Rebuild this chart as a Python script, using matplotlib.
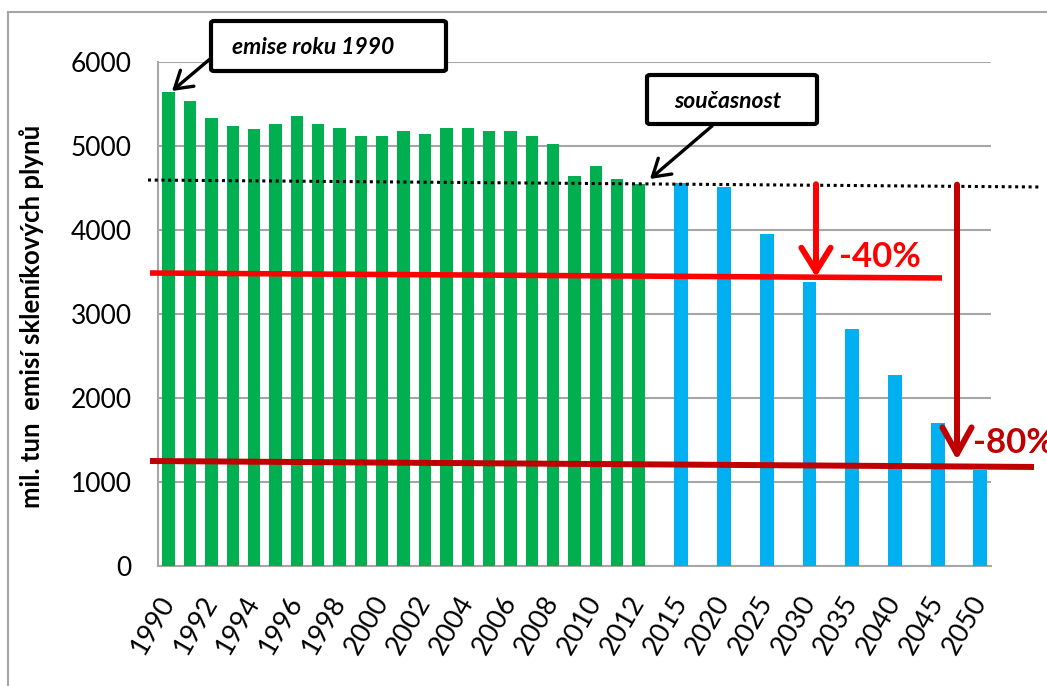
import matplotlib
matplotlib.use("Agg")
import matplotlib.pyplot as plt
from matplotlib.patches import FancyBboxPatch
from matplotlib.lines import Line2D

# ---- data ----
green_years = [1990, 1991, 1992, 1993, 1994, 1995, 1996, 1997, 1998, 1999, 2000, 2001,
               2002, 2003, 2004, 2005, 2006, 2007, 2008, 2009, 2010, 2011, 2012]
green_values = [5640, 5536, 5337, 5238, 5198, 5258, 5357, 5258, 5218, 5119, 5119, 5179,
                5139, 5218, 5218, 5179, 5179, 5119, 5020, 4643, 4762, 4607, 4552]
blue_years = [2015, 2020, 2025, 2030, 2035, 2040, 2045, 2050]
blue_values = [4556, 4516, 3952, 3385, 2827, 2274, 1702, 1140]
y_ticks = [0, 1000, 2000, 3000, 4000, 5000, 6000]
y_label = "mil. tun  emisí skleníkových plynů"

# annotation levels (hand-drawn guides in the original)
current_level = (4595, 4512)
target40_level = (3488, 3429)
target80_level = (1250, 1179)

FONT = ["Lato", "DejaVu Sans"]
plt.rcParams["font.family"] = FONT

W, H = 1047, 686
fig = plt.figure(figsize=(W / 100, H / 100), dpi=100)
fig.patch.set_facecolor("white")


def fp(x, y):
    return (x / W, 1 - y / H)


ax = fig.add_axes([158 / W, 1 - 566 / H, (991 - 158) / W, (566 - 62) / H])

green_pos = list(range(len(green_years)))
blue_pos = [len(green_years) + 1 + 2 * i for i in range(len(blue_years))]
n_slots = blue_pos[-1] + 1

ax.bar(green_pos, green_values, width=0.58, color="#00B050", zorder=3)
ax.bar(blue_pos, blue_values, width=0.65, color="#00B0F0", zorder=3)

ax.set_xlim(-0.5, n_slots - 0.5)
ax.set_ylim(0, 6000)
ax.set_yticks(y_ticks)
ax.set_yticklabels([str(v) for v in y_ticks])
ax.yaxis.grid(True, color="#A6A6A6", linewidth=1.5, zorder=0)
ax.set_axisbelow(True)

tick_pos = green_pos[::2] + blue_pos
tick_lab = [str(y) for y in green_years[::2]] + [str(y) for y in blue_years]
ax.set_xticks(tick_pos)
ax.set_xticklabels(tick_lab)

for s in ["top", "right"]:
    ax.spines[s].set_visible(False)
for s in ["left", "bottom"]:
    ax.spines[s].set_color("#A6A6A6")
    ax.spines[s].set_linewidth(1.5)

ax.tick_params(axis="y", length=0, pad=19, labelsize=19)
ax.tick_params(axis="x", length=0, pad=23, labelsize=19.5)
plt.setp(ax.get_xticklabels(), rotation=60, ha="right", va="center",
         rotation_mode="anchor")

fig.text(32 / W, 1 - 316 / H, y_label, rotation=90, ha="center", va="center",
         fontsize=18.5, fontweight="bold")

# outer frame
fig.add_artist(Line2D([8 / W, 8 / W], [1 - 12 / H, 0], color="#A6A6A6", lw=1.5,
                      transform=fig.transFigure))
fig.add_artist(Line2D([8 / W, 1], [1 - 12 / H, 1 - 12 / H], color="#A6A6A6", lw=1.5,
                      transform=fig.transFigure))


def xd(px):
    return (px - 158) / ((991 - 158) / n_slots) - 0.5


# current level dotted line
ax.plot([xd(148), xd(1040)], list(current_level), color="black", lw=2.2,
        linestyle=(0, (1, 1.2)), clip_on=False, zorder=5)
# target lines
ax.plot([xd(150), xd(942)], list(target40_level), color="#FF0000", lw=4,
        solid_capstyle="butt", clip_on=False, zorder=6)
ax.plot([xd(150), xd(1034)], list(target80_level), color="#C00000", lw=4.3,
        solid_capstyle="butt", clip_on=False, zorder=6)

# down arrows
ax.annotate("", xy=(xd(816), 3440), xytext=(xd(816), current_level[0] - 50),
            arrowprops=dict(arrowstyle="->, head_length=17, head_width=10.5",
                            mutation_scale=1, color="#FF0000", lw=4.3,
                            shrinkA=0, shrinkB=0), annotation_clip=False, zorder=7)
ax.annotate("", xy=(xd(957), 1262), xytext=(xd(957), current_level[0] - 55),
            arrowprops=dict(arrowstyle="->, head_length=19, head_width=10.5",
                            mutation_scale=1, color="#C00000", lw=4.3,
                            shrinkA=0, shrinkB=0), annotation_clip=False, zorder=7)

ax.text(xd(839), 3679, "-40%", color="#FF0000", fontsize=25, fontweight="bold",
        ha="left", va="center", zorder=8, clip_on=False)
ax.text(xd(973), 1464, "-80%", color="#C00000", fontsize=25, fontweight="bold",
        ha="left", va="center", zorder=8, clip_on=False)


# callout boxes
def callout(x0, y0, x1, y1, text, tx, ty):
    (fx0, fy0) = fp(x0, y1)
    (fx1, fy1) = fp(x1, y0)
    box = FancyBboxPatch((fx0, fy0), fx1 - fx0, fy1 - fy0,
                         boxstyle="round,pad=0,rounding_size=0.003",
                         transform=fig.transFigure, facecolor="white",
                         edgecolor="black", lw=3, zorder=10)
    fig.add_artist(box)
    fig.text(*fp(tx, ty), text, ha="center", va="center", fontsize=16.5,
             fontweight="bold", style="italic", zorder=11)


callout(211, 21, 446, 71, "emise roku 1990", 313, 47)
callout(647, 75, 817, 124, "současnost", 728, 101)

for (sx, sy, ex, ey) in [(210, 59, 172, 91), (712, 126, 650, 179)]:
    fig.add_artist(matplotlib.patches.FancyArrowPatch(
        fp(sx, sy), fp(ex, ey), transform=fig.transFigure,
        arrowstyle="->, head_length=12, head_width=7.5", mutation_scale=1,
        color="black", lw=2.4, shrinkA=0, shrinkB=0, zorder=9))

fig.savefig("out.png", dpi=100)
